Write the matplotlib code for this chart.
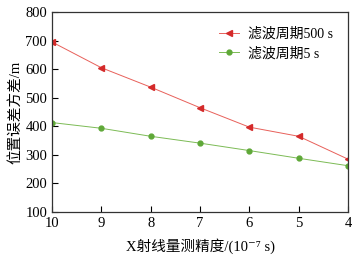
import matplotlib
matplotlib.use("Agg")
import matplotlib.pyplot as plt

plt.rcParams['font.family'] = ['Liberation Serif', 'Noto Sans CJK SC', 'DejaVu Serif']

x_vals = [10, 9, 8, 7, 6, 5, 4]
red_vals = [695, 605, 537, 465, 397, 365, 285]
green_vals = [413, 393, 365, 341, 315, 288, 262]
label_red = "滤波周期500 s"
label_green = "滤波周期5 s"
y_ticks = [100, 200, 300, 400, 500, 600, 700, 800]

fig = plt.figure(figsize=(3.62, 2.65), dpi=100)
ax = fig.add_axes([52/362, 1-212/265, 296/362, 200/265])
ax.plot(x_vals, red_vals, color='#e8605a', lw=0.7, marker='<', ms=4,
        mfc='#d42a2a', mec='#d42a2a', label=label_red)
ax.plot(x_vals, green_vals, color='#7cbb55', lw=0.7, marker='o', ms=3.5,
        mfc='#5fa838', mec='#5fa838', label=label_green)
ax.set_xlim(10, 4)
ax.set_ylim(100, 800)
ax.set_yticks(y_ticks)
ax.set_xticks(x_vals)
ax.tick_params(direction='in', labelsize=10.5, length=4, width=0.8, top=False, right=False)
for s in ax.spines.values():
    s.set_linewidth(0.9)
    s.set_color('#333333')
ax.set_xlabel("X射线量测精度/(10⁻⁷ s)", fontsize=10.5, labelpad=6)
ax.set_ylabel("位置误差方差/m", fontsize=10.5, labelpad=2)
ax.legend(loc='upper right', frameon=False, fontsize=10, handlelength=1.5,
          borderaxespad=0.7, labelspacing=0.45, handletextpad=0.6)
fig.savefig("out.png", dpi=100)
